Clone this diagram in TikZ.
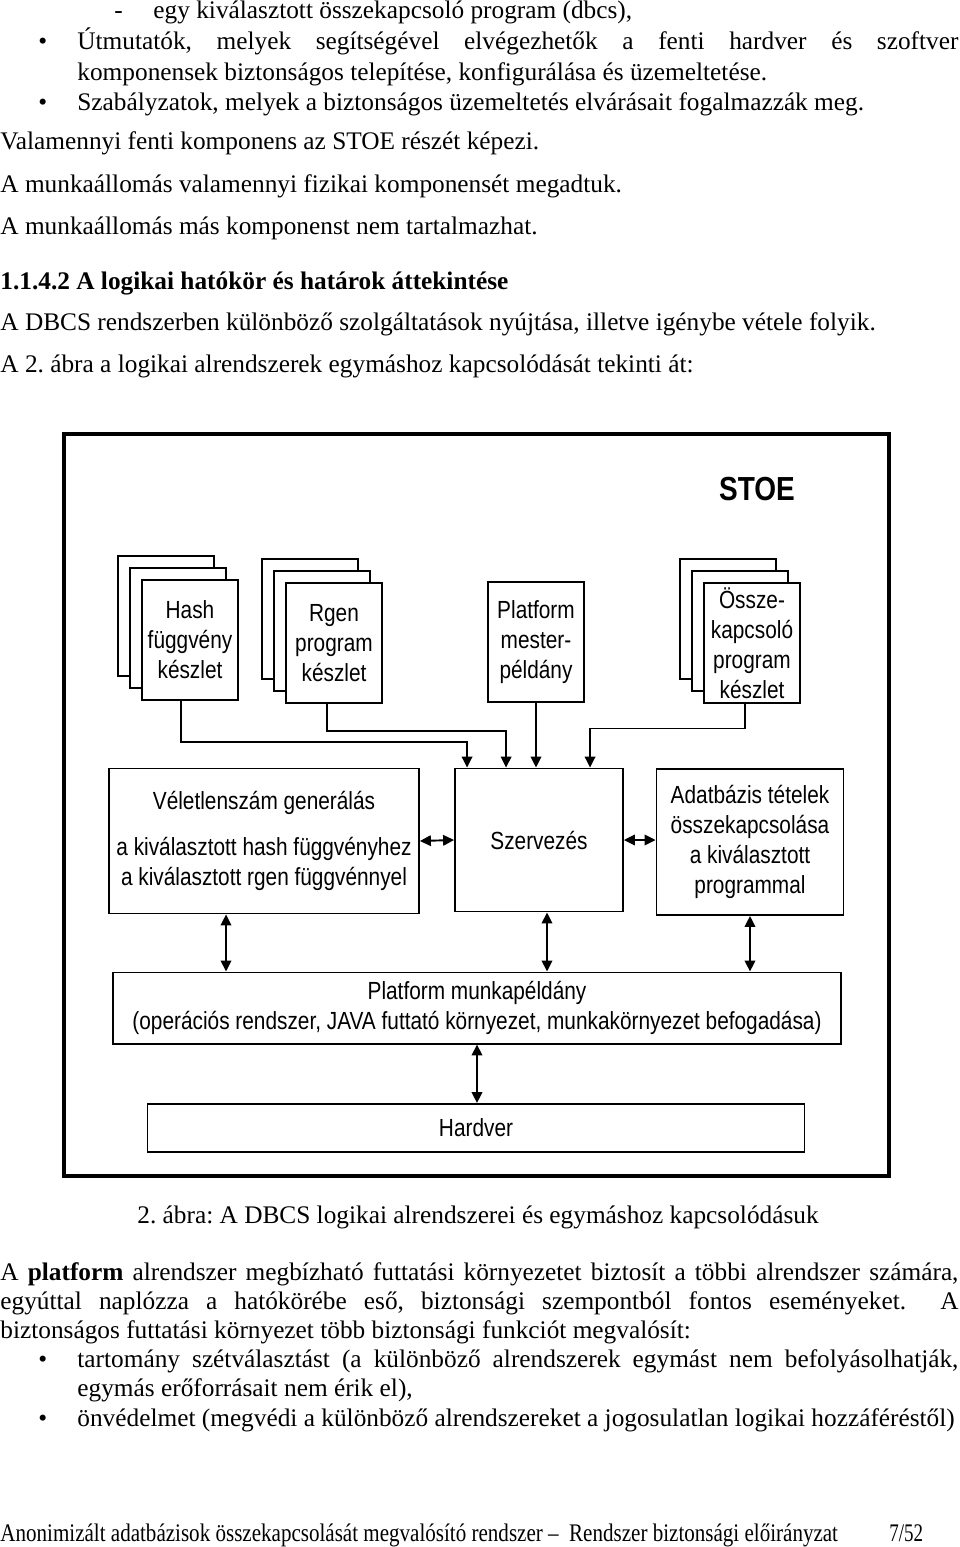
\documentclass[tikz,border=0pt]{standalone}
\usepackage{fontspec}
\usepackage{graphicx}
\setmainfont{Liberation Serif}
\newfontfamily\diafont[FakeStretch=0.84]{Liberation Sans}
\usetikzlibrary{arrows.meta}
\frenchspacing

\tikzset{
  txt/.style={anchor=base west, inner sep=0pt, font=\fontsize{12}{14}\selectfont},
  blokk/.style={draw, line width=0.9pt, fill=white, align=center, inner sep=1pt,
    font=\diafont\fontsize{11.75}{14.2}\selectfont},
  lap/.style={blokk, minimum width=45.5pt, minimum height=56.9pt},
  arr/.style={line width=0.9pt, -{Triangle[length=5.2pt,width=5pt]}},
  darr/.style={line width=0.9pt, {Triangle[length=5.2pt,width=5pt]}-{Triangle[length=5.2pt,width=5pt]}},
}

\begin{document}
\begin{tikzpicture}[x=0.474pt, y=-0.474pt]
  \useasboundingbox (0,0) rectangle (960,1547);

  % szoveg a abra felett
  \node[txt] (dash) at (114,18) {-};
  \node[txt] (l1) at (153,18) {egy kiválasztott összekapcsoló program (dbcs),};
  \node[txt] (b1) at (38,49) {\textbullet};
  \node[txt] (l2) at (77,49) {\makebox[417.6pt][s]{Útmutatók, melyek segítségével elvégezhetők a fenti hardver és szoftver}};
  \node[txt] (l3) at (77,80) {komponensek biztonságos telepítése, konfigurálása és üzemeltetése.};
  \node[txt] (b2) at (38,110) {\textbullet};
  \node[txt] (l4) at (77,110) {Szabályzatok, melyek a biztonságos üzemeltetés elvárásait fogalmazzák meg.};
  \node[txt] (l5) at (0,149) {Valamennyi fenti komponens az STOE részét képezi.};
  \node[txt] (l6) at (0,192) {A munkaállomás valamennyi fizikai komponensét megadtuk.};
  \node[txt] (l7) at (0,234) {A munkaállomás más komponenst nem tartalmazhat.};
  \node[txt, font=\fontsize{12}{14}\selectfont\bfseries] (cim) at (0,289) {1.1.4.2 A logikai hatókör és határok áttekintése};
  \node[txt] (l8) at (0,330) {A DBCS rendszerben különböző szolgáltatások nyújtása, illetve igénybe vétele folyik.};
  \node[txt] (l9) at (0,372) {A 2. ábra a logikai alrendszerek egymáshoz kapcsolódását tekinti át:};

  % abra
  \draw[line width=1.5pt] (64,434) rectangle (889,1176);
  \node[font=\diafont\fontsize{15.8}{18}\selectfont\bfseries] (stoe) at (757,489) {STOE};

  \foreach \x/\y in {190/640, 334/643, 752/643}
    \foreach \d in {24,12}
      \node[lap] at (\x-\d,\y-\d) {};
  \node[lap] (hash) at (190,640) {Hash\\függvény\\készlet};
  \node[lap] (rgen) at (334,643) {Rgen\\program\\készlet};
  \node[lap] (mester) at (536,642) {Platform\\mester-\\példány};
  \node[lap] (ossze) at (752,643) {Össze-\\kapcsoló\\program\\készlet};

  \node[blokk, minimum width=146.9pt, minimum height=68.7pt] (velet) at (264,841)
    {Véletlenszám generálás\\[7.8pt]a kiválasztott hash függvényhez\\a kiválasztott rgen függvénnyel};
  \node[blokk, minimum width=79.6pt, minimum height=67.8pt] (szerv) at (539,840) {Szervezés};
  \node[blokk, minimum width=88.6pt, minimum height=69.2pt] (adat) at (750,842)
    {Adatbázis tételek\\összekapcsolása\\a kiválasztott\\programmal};
  \node[blokk, minimum width=345.1pt, minimum height=33.7pt] (munka) at (477,1008)
    {Platform munkapéldány\\(operációs rendszer, JAVA futtató környezet, munkakörnyezet befogadása)};
  \node[blokk, minimum width=311.4pt, minimum height=22.8pt] (hardver) at (476,1128) {Hardver};

  % nyilak
  \draw[arr] ([xshift=-4.3pt]hash.south) |- ([xshift=-34.1pt,yshift=12.3pt]szerv.north)
    -- ([xshift=-34.1pt]szerv.north);
  \draw[arr] ([xshift=-3.3pt]rgen.south) |- ([xshift=-15.6pt,yshift=17.5pt]szerv.north)
    -- ([xshift=-15.6pt]szerv.north);
  \draw[arr] (mester.south) -- (mester.south |- szerv.north);
  \draw[arr] ([xshift=-3.3pt]ossze.south) |- ([xshift=24.2pt,yshift=18.5pt]szerv.north)
    -- ([xshift=24.2pt]szerv.north);
  \draw[darr] (velet.east) -- (szerv.west);
  \draw[darr] (szerv.east) -- (szerv.east -| adat.west);
  \draw[darr] ([xshift=-18pt]velet.south) -- ([xshift=-18pt]velet.south |- munka.north);
  \draw[darr] ([xshift=3.8pt]szerv.south) -- ([xshift=3.8pt]szerv.south |- munka.north);
  \draw[darr] (adat.south) -- (adat.south |- munka.north);
  \draw[darr] (munka.south) -- (munka.south |- hardver.north);

  % szoveg az abra alatt
  \node[txt] (felirat) at (137,1223) {2. ábra: A DBCS logikai alrendszerei és egymáshoz kapcsolódásuk};
  \node[txt] (p1) at (0,1280) {\makebox[454.1pt][s]{A \textbf{platform} alrendszer megbízható futtatási környezetet biztosít a többi alrendszer számára,}};
  \node[txt] (p2) at (0,1309) {\makebox[454.1pt][s]{egyúttal naplózza a hatókörébe eső, biztonsági szempontból fontos eseményeket. \ A}};
  \node[txt] (p3) at (0,1338) {biztonságos futtatási környezet több biztonsági funkciót megvalósít:};
  \node[txt] (b3) at (38,1367) {\textbullet};
  \node[txt] (p4) at (77,1367) {\makebox[417.6pt][s]{tartomány szétválasztást (a különböző alrendszerek egymást nem befolyásolhatják,}};
  \node[txt] (p5) at (77,1396) {egymás erőforrásait nem érik el),};
  \node[txt] (b4) at (38,1426) {\textbullet};
  \node[txt] (p6) at (77,1426) {önvédelmet (megvédi a különböző alrendszereket a jogosulatlan logikai hozzáféréstől)};
  \node[txt] (lab) at (0,1541) {\resizebox{397pt}{\height}{Anonimizált adatbázisok összekapcsolását megvalósító rendszer –\ \ Rendszer biztonsági előirányzat}};
  \node[txt] (oldal) at (889,1541) {\resizebox{16pt}{\height}{7/52}};
\end{tikzpicture}
\end{document}
